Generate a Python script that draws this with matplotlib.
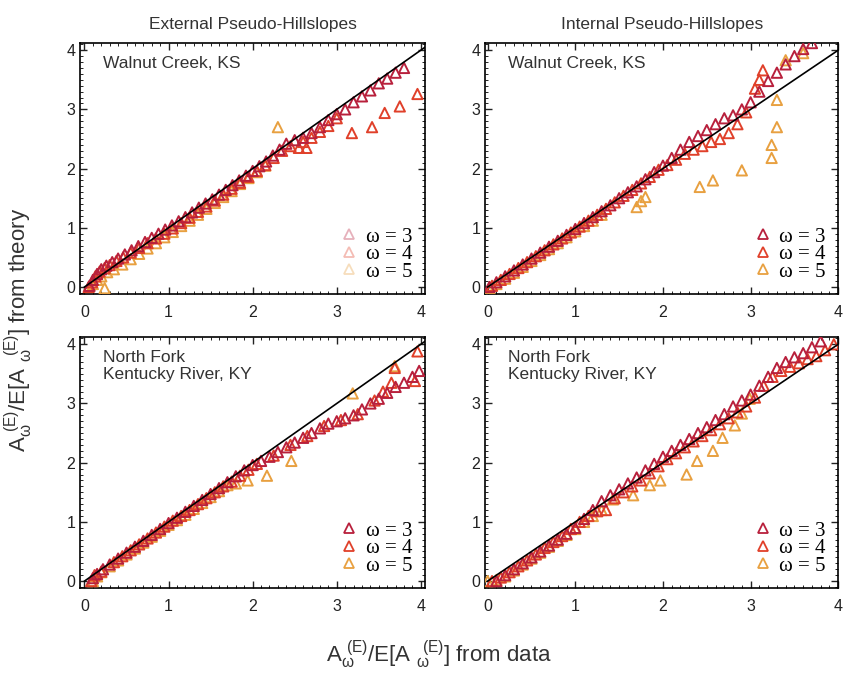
import numpy as np
import matplotlib.pyplot as plt
from matplotlib.ticker import MultipleLocator

# (x, y) points, one list per panel and order
tl_w3 = [(0.06,0.02),(0.1,0.12),(0.15,0.22),(0.2,0.3),(0.26,0.36),(0.33,0.42),(0.4,0.48),(0.48,0.55),(0.56,0.62),
         (0.64,0.69),(0.72,0.76),(0.8,0.83),(0.88,0.9),(0.96,0.97),(1.04,1.04),(1.12,1.11),(1.2,1.18),(1.28,1.26),
         (1.36,1.34),(1.44,1.41),(1.52,1.48),(1.6,1.56),(1.68,1.64),(1.76,1.72),(1.84,1.8),(1.92,1.88),(2.0,1.96),
         (2.08,2.04),(2.16,2.12),(2.24,2.22),(2.32,2.32),(2.4,2.42),(2.5,2.48),(2.6,2.52),(2.7,2.6),(2.8,2.7),
         (2.9,2.82),(3.0,2.92),(3.1,3.0),(3.2,3.12),(3.3,3.22),(3.4,3.32),(3.5,3.44),(3.6,3.52),(3.7,3.62),(3.8,3.7)]
tl_w4 = [(0.05,0.0),(0.09,0.08),(0.13,0.18),(0.18,0.26),(0.24,0.32),(0.3,0.37),(0.38,0.44),(0.46,0.5),(0.55,0.58),
         (0.65,0.66),(0.75,0.74),(0.85,0.82),(0.95,0.9),(1.05,0.99),(1.15,1.08),(1.25,1.17),(1.35,1.27),(1.45,1.36),
         (1.55,1.46),(1.65,1.56),(1.75,1.66),(1.85,1.76),(1.95,1.86),(2.05,1.96),(2.15,2.06),(2.25,2.18),(2.35,2.3),
         (2.45,2.38),(2.55,2.35),(2.64,2.35),(2.6,2.45),(2.7,2.52),(2.8,2.62),(2.9,2.72),(3.0,2.85),(3.18,2.6),
         (3.42,2.7),(3.57,2.94),(3.75,3.05),(3.96,3.26)]
tl_w5 = [(0.1,0.05),(0.15,0.12),(0.2,0.18),(0.24,-0.02),(0.27,0.25),(0.35,0.3),(0.45,0.38),(0.55,0.47),(0.65,0.56),
         (0.75,0.65),(0.85,0.74),(0.95,0.84),(1.05,0.93),(1.15,1.03),(1.25,1.12),(1.35,1.22),(1.45,1.32),(1.55,1.42),
         (1.65,1.52),(1.75,1.62),(1.85,1.74),(1.95,1.84),(2.05,1.94),(2.15,2.05),(2.3,2.7)]

tr_w3 = [(0.02,0.0),(0.1,0.08),(0.2,0.18),(0.3,0.28),(0.4,0.38),(0.5,0.48),(0.6,0.58),(0.7,0.68),(0.8,0.78),
         (0.9,0.88),(1.0,0.98),(1.1,1.08),(1.2,1.18),(1.3,1.28),(1.4,1.38),(1.5,1.5),(1.6,1.6),(1.7,1.7),(1.8,1.82),
         (1.9,1.94),(2.0,2.05),(2.1,2.18),(2.2,2.32),(2.3,2.45),(2.4,2.55),(2.5,2.65),(2.6,2.75),(2.7,2.85),
         (2.8,2.9),(2.9,3.0),(3.0,3.12),(3.1,3.3),(3.2,3.48),(3.3,3.62),(3.4,3.76),(3.5,3.9),(3.6,4.02),(3.7,4.12)]
tr_w4 = [(0.05,0.02),(0.15,0.12),(0.25,0.22),(0.35,0.32),(0.45,0.42),(0.55,0.52),(0.65,0.62),(0.75,0.72),
         (0.85,0.82),(0.95,0.92),(1.05,1.02),(1.15,1.12),(1.25,1.22),(1.35,1.32),(1.45,1.43),(1.55,1.54),
         (1.65,1.64),(1.75,1.75),(1.85,1.86),(1.95,1.98),(2.05,2.06),(2.15,2.15),(2.25,2.25),(2.35,2.32),
         (2.45,2.38),(2.55,2.45),(2.65,2.5),(2.75,2.6),(2.85,2.75),(2.95,2.95),(3.05,3.35),(3.1,3.5),(3.14,3.66)]
tr_w5 = [(0.02,-0.02),(0.1,0.05),(0.2,0.14),(0.3,0.24),(0.4,0.34),(0.5,0.44),(0.6,0.54),(0.7,0.64),(0.8,0.74),
         (0.9,0.84),(1.0,0.94),(1.1,1.03),(1.2,1.12),(1.3,1.22),(1.7,1.35),(1.75,1.45),(1.8,1.52),(2.42,1.69),
         (2.57,1.8),(2.9,1.97),(3.24,2.18),(3.24,2.4),(3.3,2.7),(3.3,3.16),(3.4,3.83),(3.6,3.95)]

bl_w3 = [(0.1,0.05),(0.15,0.12),(0.22,0.2),(0.3,0.28),(0.4,0.38),(0.5,0.48),(0.6,0.58),(0.7,0.68),(0.8,0.78),
         (0.9,0.88),(1.0,0.98),(1.1,1.07),(1.2,1.17),(1.3,1.27),(1.4,1.37),(1.5,1.47),(1.6,1.57),(1.7,1.67),
         (1.8,1.77),(1.9,1.87),(2.0,1.96),(2.1,2.03),(2.2,2.1),(2.3,2.18),(2.4,2.26),(2.5,2.34),(2.6,2.42),
         (2.7,2.5),(2.8,2.58),(2.9,2.66),(3.0,2.7),(3.1,2.75),(3.2,2.8),(3.3,2.9),(3.4,3.0),(3.5,3.08),(3.6,3.18),
         (3.7,3.28),(3.8,3.35),(3.9,3.45),(3.98,3.55)]
bl_w4 = [(0.08,0.0),(0.12,0.1),(0.2,0.16),(0.35,0.32),(0.45,0.42),(0.55,0.52),(0.65,0.62),(0.75,0.72),
         (0.85,0.82),(0.95,0.92),(1.05,1.02),(1.15,1.1),(1.25,1.2),(1.35,1.3),(1.45,1.4),(1.55,1.5),(1.65,1.6),
         (1.75,1.68),(1.85,1.78),(1.95,1.88),(2.05,1.98),(2.25,2.12),(2.45,2.3),(2.65,2.45),(2.85,2.62),
         (3.05,2.72),(3.25,2.82),(3.45,3.05),(3.55,3.2),(3.65,3.35),(3.69,3.6),(3.93,3.38),(3.96,3.88)]
bl_w5 = [(0.1,0.0),(0.15,0.08),(0.2,0.15),(0.3,0.25),(0.4,0.35),(0.5,0.45),(0.6,0.55),(0.7,0.65),(0.8,0.75),
         (0.9,0.85),(1.0,0.95),(1.1,1.03),(1.2,1.12),(1.3,1.22),(1.4,1.32),(1.5,1.42),(1.6,1.52),(1.7,1.62),
         (1.8,1.65),(1.94,1.7),(2.17,1.78),(2.46,2.03),(3.19,3.17),(3.69,3.63)]

br_w3 = [(0.1,0.0),(0.2,0.1),(0.3,0.2),(0.4,0.3),(0.5,0.4),(0.6,0.5),(0.7,0.6),(0.8,0.7),(0.9,0.8),(1.0,0.9),
         (1.1,1.05),(1.2,1.2),(1.3,1.35),(1.4,1.45),(1.5,1.55),(1.6,1.65),(1.7,1.75),(1.8,1.87),(1.9,1.98),
         (2.0,2.1),(2.1,2.2),(2.2,2.3),(2.3,2.4),(2.4,2.5),(2.5,2.6),(2.6,2.72),(2.7,2.82),(2.8,2.95),(2.9,3.05),
         (3.0,3.15),(3.1,3.3),(3.2,3.45),(3.3,3.6),(3.4,3.7),(3.5,3.78),(3.6,3.85),(3.7,3.95),(3.8,4.05)]
br_w4 = [(0.05,0.0),(0.15,0.06),(0.25,0.15),(0.35,0.25),(0.45,0.35),(0.55,0.45),(0.65,0.56),(0.75,0.66),
         (0.85,0.76),(0.95,0.88),(1.05,1.0),(1.15,1.1),(1.25,1.18),(1.35,1.2),(1.45,1.4),(1.55,1.5),(1.65,1.6),
         (1.75,1.7),(1.85,1.82),(1.95,1.94),(2.05,2.06),(2.15,2.16),(2.25,2.26),(2.35,2.36),(2.45,2.45),
         (2.55,2.55),(2.65,2.65),(2.75,2.75),(2.85,2.85),(2.95,2.95),(3.05,3.1),(3.15,3.3),(3.25,3.45),
         (3.35,3.55),(3.45,3.62),(3.55,3.68),(3.65,3.75),(3.75,3.8),(3.85,3.9),(3.95,4.0)]
br_w5 = [(0.0,0.0),(0.1,0.02),(0.2,0.08),(0.3,0.18),(0.4,0.28),(0.5,0.38),(0.6,0.48),(0.7,0.58),(0.8,0.68),
         (0.9,0.78),(1.0,0.88),(1.1,1.0),(1.2,1.1),(1.3,1.2),(1.43,1.38),(1.66,1.45),(1.85,1.62),(1.97,1.7),
         (2.27,1.8),(2.39,2.03),(2.57,2.2),(2.68,2.42),(2.82,2.63),(2.9,2.83),(2.99,3.08)]

orders = [3, 4, 5]
colors = ['#b8203c', '#e0402a', '#e8a040']
col_titles = ['External Pseudo-Hillslopes', 'Internal Pseudo-Hillslopes']
basin_labels = ['Walnut Creek, KS', 'North Fork\nKentucky River, KY']

panels = [[(tl_w3, tl_w4, tl_w5), (tr_w3, tr_w4, tr_w5)],
          [(bl_w3, bl_w4, bl_w5), (br_w3, br_w4, br_w5)]]

fig = plt.figure(figsize=(8.45, 6.73), dpi=100)
plt.rcParams['font.family'] = ['Liberation Sans', 'DejaVu Sans']

lefts = [0.095, 0.574]
widths = [0.408, 0.418]
bottoms = [0.563, 0.126]
h = 0.373
xlims = [(-0.05, 4.05), (-0.03, 4.0)]

for r in range(2):
    for c in range(2):
        ax = fig.add_axes([lefts[c], bottoms[r], widths[c], h])
        line = np.array([0, 4.3])
        ax.plot(line, line, color='black', lw=1.2, zorder=4)
        for k in [2, 1, 0]:
            pts = np.array(panels[r][c][k])
            ax.scatter(pts[:, 0], pts[:, 1], marker='^', s=55, facecolors='none',
                       edgecolors=colors[k], linewidths=1.4, zorder=3)
        ax.set_xlim(*xlims[c])
        ax.set_ylim(-0.12, 4.12)
        ax.xaxis.set_major_locator(MultipleLocator(1))
        ax.yaxis.set_major_locator(MultipleLocator(1))
        ax.xaxis.set_minor_locator(MultipleLocator(0.1))
        ax.yaxis.set_minor_locator(MultipleLocator(0.1))
        ax.tick_params(which='both', direction='in', top=True, right=True, labelsize=11.5, colors='#222222')
        ax.tick_params(which='major', length=5, width=1)
        ax.tick_params(which='minor', length=2.5, width=0.7)
        ax.tick_params(axis='x', pad=8)
        for s in ax.spines.values():
            s.set_linewidth(1.2)
        ax.text(0.065, 0.95, basin_labels[r], transform=ax.transAxes, ha='left', va='top',
                fontsize=12.5, color='#333333', linespacing=1.15)
        # legend
        handles = []
        for k in range(3):
            alpha = 0.35 if (r == 0 and c == 0) else 1.0
            hd, = ax.plot([], [], ls='none', marker='^', ms=7, mfc='none', mec=colors[k], mew=1.3, alpha=alpha)
            handles.append(hd)
        ax.legend(handles, ['\u03c9 = %d' % o for o in orders], loc='lower right', frameon=False,
                  prop={'family': 'Liberation Serif', 'size': 15}, handletextpad=0.3, labelspacing=-0.1,
                  borderaxespad=0.2, handlelength=1.0)
        if r == 0:
            ax.set_title(col_titles[c], fontsize=12.5, color='#333333', pad=10)

fig.text(0.022, 0.51, r'$\mathregular{A_\omega^{\ (E)}/E[A\ _\omega^{\ (E)}]}$ from theory', rotation=90,
         ha='center', va='center', fontsize=16, color='#333333')
fig.text(0.52, 0.027, r'$\mathregular{A_\omega^{\ (E)}/E[A\ _\omega^{\ (E)}]}$ from data',
         ha='center', va='center', fontsize=16, color='#333333')

fig.savefig('out.png', dpi=100)
